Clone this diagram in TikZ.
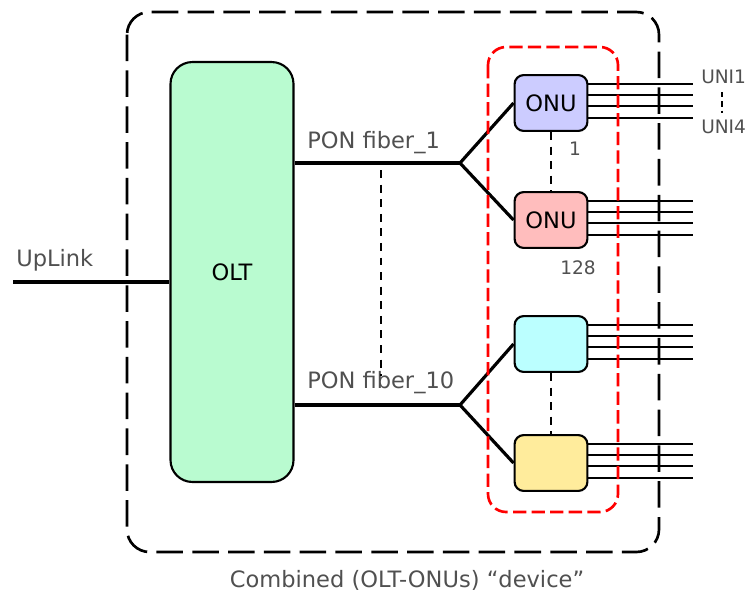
\documentclass[tikz,border=0pt]{standalone}
\usepackage{fontspec}
\setmainfont{DejaVu Sans}
\usetikzlibrary{calc}
\definecolor{oltgreen}{HTML}{B9FBD0}
\definecolor{onublue}{HTML}{CCCCFF}
\definecolor{onupink}{HTML}{FFBDBD}
\definecolor{onucyan}{HTML}{BBFFFF}
\definecolor{onuyellow}{HTML}{FFEC9C}
\definecolor{labelgrey}{HTML}{505050}
\tikzset{
  onubox/.style={draw, line width=1.6pt, rounded corners=0.24cm,
    minimum width=1.93cm, minimum height=1.48cm, inner sep=0pt},
  fiber/.style={line width=2.4pt},
  uniline/.style={line width=1.6pt},
  thindash/.style={line width=1.2pt, dash pattern=on 6pt off 5pt},
  lbl/.style={text=labelgrey, inner sep=0pt},
  smalllbl/.style={lbl, font=\fontsize{14}{17}\selectfont}
}
\begin{document}
\begin{tikzpicture}[x=0.0265cm, y=-0.0265cm, font=\fontsize{17}{20}\selectfont]
                \useasboundingbox (0,0) rectangle (751,596);

                % outer device box
                \draw[line width=2pt, dash pattern=on 20pt off 7pt, rounded corners=0.6cm]
                    (127,12) rectangle (659,552);

                \node[draw, fill=oltgreen, line width=1.6pt, rounded corners=0.58cm,
                    minimum width=3.26cm, minimum height=11.13cm] (olt) at (232,272) {OLT};

                \node[onubox, fill=onublue] (onu1) at (551,103) {ONU};
                \node[onubox, fill=onupink] (onu2) at (551,220) {ONU};
                \node[onubox, fill=onucyan] (onu3) at (551,344) {};
                \node[onubox, fill=onuyellow] (onu4) at (551,463) {};

                \coordinate (up) at (13,282);
                \coordinate (split1) at (460,163);
                \coordinate (split2) at (460,405);

                % uplink and fibers
                \draw[fiber] (up) -- (olt.west |- up);
                \node[lbl, anchor=west] (uplink) at (16,260) {UpLink};
                \draw[fiber] (olt.east |- split1) -- (split1);
                \draw[fiber] (olt.east |- split2) -- (split2);
                \node[lbl, anchor=west] (pon1) at (307,143) {PON fiber\_1};
                \node[lbl, anchor=west] (pon10) at (307,383) {PON fiber\_10};
                \draw[thindash] (381,170) -- (381,376);

                \draw[fiber] (onu1.west) -- (split1) -- (onu2.west);
                \draw[fiber] (onu3.west) -- (split2) -- (onu4.west);
                \draw[thindash] (onu1.south) -- (onu2.north);
                \draw[thindash] (onu3.south) -- (onu4.north);

                \node[smalllbl] (n1) at (575,149) {1};
                \node[smalllbl] (n128) at (578,268) {128};

                % user ports
                \foreach \o in {onu1,onu2,onu3,onu4}
                    \foreach \d in {-19,-8,3,15}
                        \draw[uniline] ($(\o.east)+(0,\d)$) -- ++(105,0);
                \node[smalllbl, anchor=west] (uni1) at (701,77) {UNI1};
                \node[smalllbl, anchor=west] (uni4) at (701,127) {UNI4};
                \draw[line width=1.2pt, dash pattern=on 4pt off 3pt] (722,92) -- (722,113);

                % ONU group
                \draw[red, line width=2pt, dash pattern=on 10pt off 4pt, rounded corners=0.48cm]
                    (488,47) rectangle (618,512);

                \node[lbl] (caption) at (407,580) {Combined (OLT-ONUs) “device”};
            \end{tikzpicture}
\end{document}
